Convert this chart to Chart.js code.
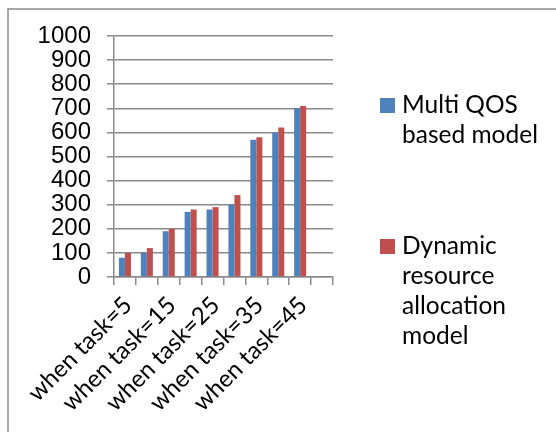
<!DOCTYPE html>
<html>
<head>
<meta charset="utf-8">
<script src="https://cdn.jsdelivr.net/npm/chart.js@4.4.1/dist/chart.umd.min.js"></script>
<style>
  html, body { margin: 0; padding: 0; background: #ffffff; }
  #wrap { position: relative; width: 556px; height: 432px; overflow: hidden; }
  canvas { display: block; }
</style>
</head>
<body>
<div id="wrap"><canvas id="c" width="556" height="432"></canvas></div>
<script>
// Categories (task counts); the last slot is left empty.
const categories = ['when task=5', 'when task=10', 'when task=15', 'when task=20', 'when task=25',
                    'when task=30', 'when task=35', 'when task=40', 'when task=45', ''];
const multiQos = [80, 100, 190, 270, 280, 300, 570, 600, 700, null];
const dynamicAlloc = [100, 120, 200, 280, 290, 340, 580, 620, 710, null];
const seriesNames = ['Multi QOS based model', 'Dynamic resource allocation model'];
const yTicks = { min: 0, max: 1000, step: 100 };

const GRID = '#8a8a8a';
const TEXT_FONT = 'Lato, "Open Sans", sans-serif';

// Outer frame of the chart area (left and top edges).
const framePlugin = {
  id: 'frame',
  beforeDraw(chart) {
    const ctx = chart.ctx;
    ctx.save();
    ctx.strokeStyle = '#8c8c8c';
    ctx.lineWidth = 1.5;
    ctx.beginPath();
    ctx.moveTo(8, 432);
    ctx.lineTo(8, 9);
    ctx.lineTo(556, 9);
    ctx.stroke();
    ctx.restore();
  }
};

// Right-hand legend with word-wrapped series names.
const wrapLegend = {
  id: 'wrapLegend',
  afterDraw(chart) {
    const ctx = chart.ctx;
    const boxX = 380, boxSize = 15, textX = 402, lineH = 30, maxW = 150;
    const tops = [98, 239];
    ctx.save();
    ctx.font = '24.5px ' + TEXT_FONT;
    ctx.textBaseline = 'alphabetic';
    chart.data.datasets.forEach((ds, i) => {
      const top = tops[i];
      ctx.fillStyle = ds.backgroundColor;
      ctx.fillRect(boxX, top, boxSize, boxSize);
      const words = ds.label.split(' ');
      const lines = [];
      let cur = '';
      words.forEach(w => {
        const test = cur ? cur + ' ' + w : w;
        if (cur && ctx.measureText(test).width > maxW) { lines.push(cur); cur = w; }
        else cur = test;
      });
      if (cur) lines.push(cur);
      ctx.fillStyle = '#000';
      lines.forEach((ln, k) => ctx.fillText(ln, textX, top + boxSize + k * lineH));
    });
    ctx.restore();
  }
};

new Chart(document.getElementById('c'), {
  type: 'bar',
  data: {
    labels: categories,
    datasets: [
      { label: seriesNames[0], data: multiQos, backgroundColor: '#4F81BD' },
      { label: seriesNames[1], data: dynamicAlloc, backgroundColor: '#C0504D' }
    ]
  },
  options: {
    responsive: false,
    animation: false,
    events: [],
    layout: { padding: { left: 8, top: 36, right: 223, bottom: 0 } },
    datasets: { bar: { barPercentage: 1, categoryPercentage: 0.55 } },
    plugins: { legend: { display: false }, tooltip: { enabled: false } },
    scales: {
      y: {
        min: yTicks.min,
        max: yTicks.max,
        ticks: {
          stepSize: yTicks.step,
          autoSkip: false,
          color: '#000',
          padding: 16,
          font: { family: '"Liberation Sans", Arial, sans-serif', size: 24 },
          callback: v => String(v)
        },
        grid: { color: GRID, lineWidth: 1.5, tickLength: 7, tickColor: GRID },
        border: { color: GRID, width: 1.5 },
        afterFit(scale) { scale.width = 106; }
      },
      x: {
        grid: { offset: true, drawOnChartArea: false, color: GRID, lineWidth: 1.5, tickLength: 8 },
        border: { color: GRID, width: 1.5 },
        ticks: {
          autoSkip: false,
          maxRotation: 45,
          minRotation: 45,
          color: '#000',
          padding: 6,
          labelOffset: 3,
          font: { family: TEXT_FONT, size: 24 },
          callback(value, index) { return index % 2 === 0 ? this.getLabelForValue(value) : ''; }
        },
        afterFit(scale) { scale.height = 155; }
      }
    }
  },
  plugins: [framePlugin, wrapLegend]
});
</script>
</body>
</html>
